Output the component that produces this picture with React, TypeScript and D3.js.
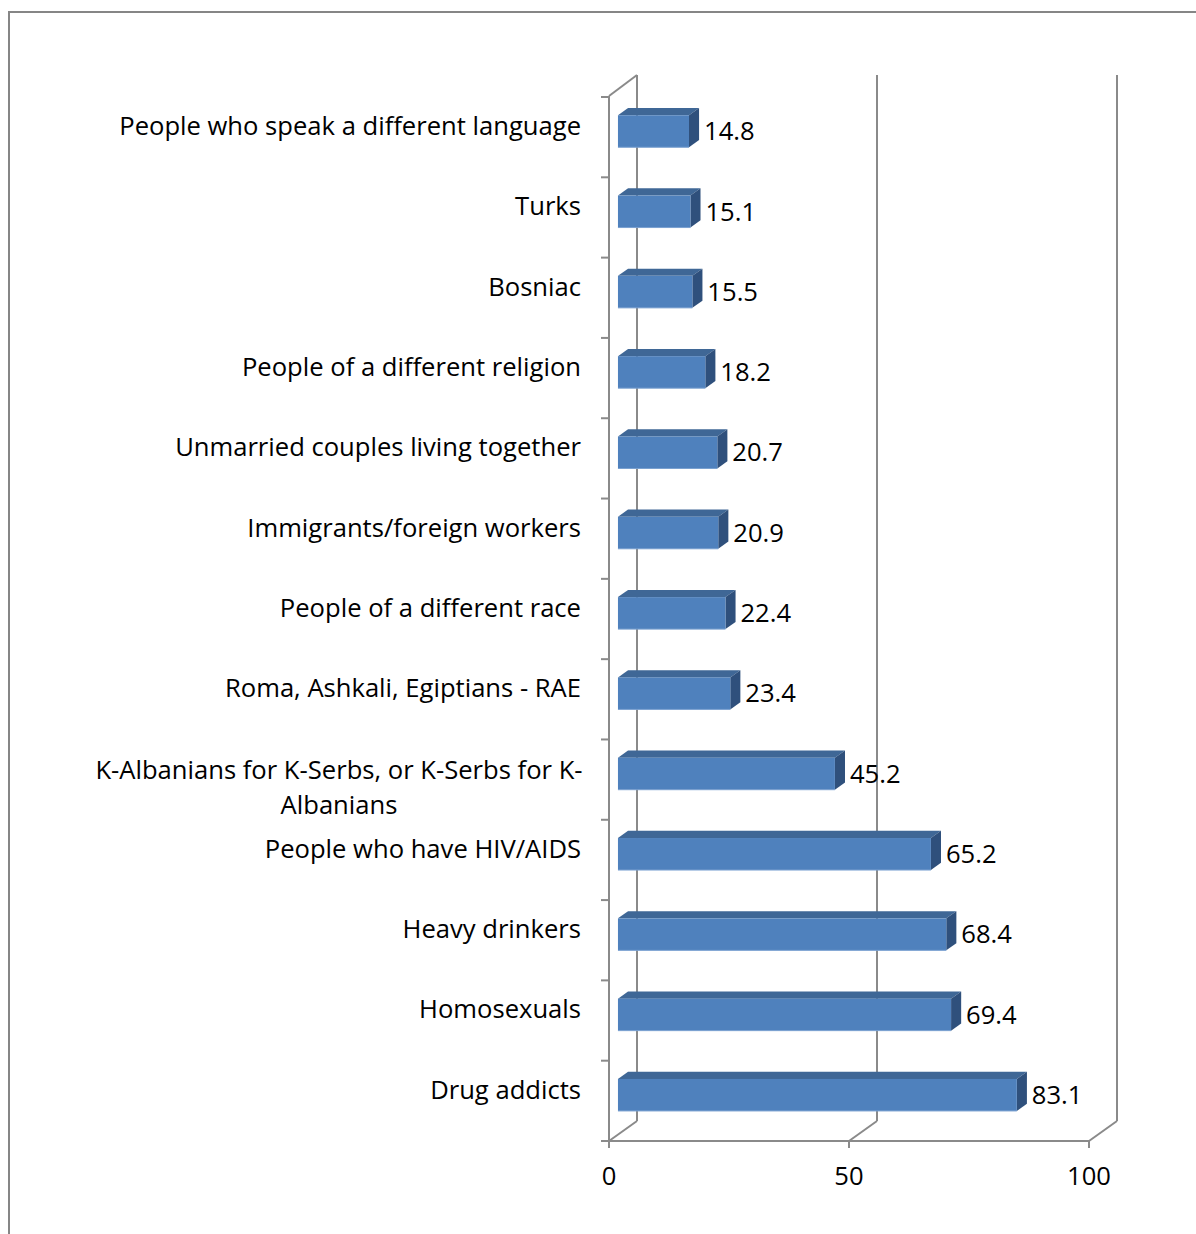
import React from "react";
import * as d3 from "d3";

const categories: string[][] = [
  ["People who speak a different language"],
  ["Turks"],
  ["Bosniac"],
  ["People of a different religion"],
  ["Unmarried couples living together"],
  ["Immigrants/foreign workers"],
  ["People of a different race"],
  ["Roma, Ashkali, Egiptians - RAE"],
  ["K-Albanians for K-Serbs, or K-Serbs for K-", "Albanians"],
  ["People who have HIV/AIDS"],
  ["Heavy drinkers"],
  ["Homosexuals"],
  ["Drug addicts"],
];
const values: number[] = [14.8, 15.1, 15.5, 18.2, 20.7, 20.9, 22.4, 23.4, 45.2, 65.2, 68.4, 69.4, 83.1];
const xTicks: number[] = [0, 50, 100];

const W = 1196;
const H = 1234;
const FONT = "'Open Sans', sans-serif";
const FS = 25.6;
const GRID = "#8a8a8a";

export default function App() {
  const x = d3.scaleLinear().domain([0, 100]).range([609, 1089]);
  const y = d3
    .scaleBand<number>()
    .domain(d3.range(categories.length))
    .range([97, 1141])
    .paddingInner(0)
    .paddingOuter(0);
  const DX = 28;
  const DY = -20;
  const off = (f: number) => [DX * f, DY * f];
  const yTop = 97;
  const yBot = 1141;
  const f1 = 0.32;
  const f2 = 0.68;
  const [o1x, o1y] = off(f1);
  const [o2x, o2y] = off(f2);
  const barH = 32;
  const bw = y.bandwidth();
  const fill = "#4f81bd";
  const topFill = "#3f6796";
  const sideFill = "#2f507c";

  return (
    <svg
      width={W}
      height={H}
      style={{ position: "absolute", left: 0, top: 0, background: "#fff" }}
    >
      <rect x={0} y={0} width={W} height={H} fill="#fff" />
      {/* outer border */}
      <path d={`M9,${H} L9,12 L${W},12`} fill="none" stroke="#868686" strokeWidth={2} />
      {/* back wall gridlines */}
      {xTicks.map((t) => (
        <line
          key={"g" + t}
          x1={x(t) + DX}
          x2={x(t) + DX}
          y1={yTop + DY - 2}
          y2={yBot + DY}
          stroke={GRID}
          strokeWidth={2}
        />
      ))}
      {/* floor diagonals */}
      {xTicks.map((t) => (
        <line
          key={"d" + t}
          x1={x(t)}
          y1={yBot}
          x2={x(t) + DX}
          y2={yBot + DY}
          stroke={GRID}
          strokeWidth={2}
        />
      ))}
      {/* left wall top diagonal */}
      <line x1={x(0)} y1={yTop - 1} x2={x(0) + DX} y2={yTop + DY - 2} stroke={GRID} strokeWidth={2} />
      {/* front left axis */}
      <line x1={x(0)} x2={x(0)} y1={yTop - 1} y2={yBot + 7} stroke={GRID} strokeWidth={2} />
      {/* front bottom axis */}
      <line x1={x(0) - 8} x2={x(100)} y1={yBot} y2={yBot} stroke={GRID} strokeWidth={2} />
      {/* left ticks */}
      {d3.range(categories.length + 1).map((i) => {
        const yy = yTop + i * bw;
        return <line key={"lt" + i} x1={x(0) - 8} x2={x(0)} y1={yy} y2={yy} stroke={GRID} strokeWidth={2} />;
      })}
      {/* bottom ticks */}
      {xTicks.map((t) => (
        <line key={"bt" + t} x1={x(t)} x2={x(t)} y1={yBot} y2={yBot + 7} stroke={GRID} strokeWidth={2} />
      ))}
      {/* bars */}
      {values.map((v, i) => {
        const cy = (y(i) as number) + bw / 2 + 0.5;
        const yf0 = cy - barH / 2 + o1y;
        const yf1 = cy + barH / 2 + o1y;
        const xf0 = x(0) + o1x;
        const xf1 = x(v) + o1x;
        const ddx = o2x - o1x;
        const ddy = o2y - o1y;
        return (
          <g key={"b" + i}>
            <path
              d={`M${xf0},${yf0} L${xf0 + ddx},${yf0 + ddy} L${xf1 + ddx},${yf0 + ddy} L${xf1},${yf0} Z`}
              fill={topFill}
            />
            <path
              d={`M${xf1},${yf0} L${xf1 + ddx},${yf0 + ddy} L${xf1 + ddx},${yf1 + ddy} L${xf1},${yf1} Z`}
              fill={sideFill}
            />
            <rect x={xf0} y={yf0} width={xf1 - xf0} height={yf1 - yf0} fill={fill} />
            <line x1={xf0} x2={xf1} y1={yf1} y2={yf1} stroke="#7aa0d0" strokeWidth={1} />
            <text
              x={xf1 + 15}
              y={cy + o1y}
              dy="0.35em"
              fontFamily={FONT}
              fontSize={FS}
              fill="#000"
            >
              {v.toFixed(1)}
            </text>
          </g>
        );
      })}
      {/* category labels */}
      {categories.map((lines, i) => {
        const cy = (y(i) as number) + bw / 2;
        if (lines.length === 1) {
          return (
            <text
              key={"c" + i}
              x={581}
              y={cy - 11}
              dy="0.35em"
              textAnchor="end"
              fontFamily={FONT}
              fontSize={FS}
              fill="#000"
            >
              {lines[0]}
            </text>
          );
        }
        return (
          <text key={"c" + i} textAnchor="middle" fontFamily={FONT} fontSize={FS} fill="#000">
            <tspan x={339} y={cy - 10} dy="0.35em">{lines[0]}</tspan>
            <tspan x={339} y={cy + 25} dy="0.35em">{lines[1]}</tspan>
          </text>
        );
      })}
      {/* x tick labels */}
      {xTicks.map((t) => (
        <text
          key={"xl" + t}
          x={x(t)}
          y={1176}
          dy="0.35em"
          textAnchor="middle"
          fontFamily={FONT}
          fontSize={FS}
          fill="#000"
        >
          {t}
        </text>
      ))}
    </svg>
  );
}
